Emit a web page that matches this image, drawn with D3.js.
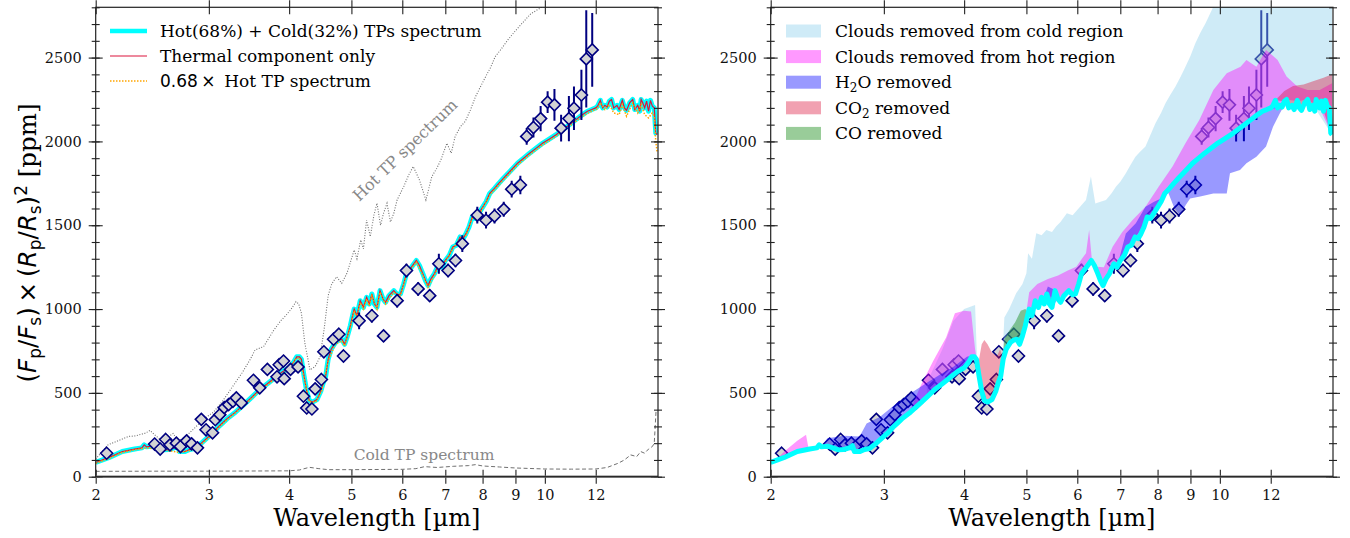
<!DOCTYPE html>
<html>
<head>
<meta charset="utf-8">
<script src="https://cdn.jsdelivr.net/npm/d3@7"></script>
<style>
body { margin: 0; background: #fff; }
svg text { font-family: "DejaVu Serif", serif; }
</style>
</head>
<body>
<script>
// ---- values ----
// best-fit model (hot 68% + cold 32%), [wavelength um, ppm]
var model = [[2.00,85],[2.05,100],[2.10,115],[2.20,150],[2.30,165],[2.36,172],[2.38,190],[2.40,178],[2.45,182],[2.50,172],
  [2.55,160],[2.60,162],[2.66,175],[2.68,185],[2.70,150],[2.75,150],[2.80,162],[2.85,168],[2.90,190],[2.95,215],
  [3.00,240],[3.05,265],[3.10,295],[3.15,320],[3.20,345],[3.30,385],[3.40,430],[3.50,475],[3.60,520],[3.70,555],
  [3.80,590],[3.90,625],[4.00,650],[4.06,680],[4.11,715],[4.15,715],[4.18,700],[4.22,600],[4.26,510],[4.30,455],
  [4.35,445],[4.42,460],[4.48,510],[4.52,560],[4.56,600],[4.60,700],[4.65,760],[4.72,800],[4.78,815],[4.83,820],
  [4.88,790],[4.93,840],[4.98,900],[5.02,960],[5.05,1000],[5.10,960],[5.16,1050],[5.22,1010],[5.28,1070],[5.33,1030],
  [5.38,1090],[5.43,1030],[5.48,1010],[5.54,1110],[5.60,1060],[5.65,1040],[5.72,1080],[5.82,1110],[5.90,1085],[5.96,1090],
  [6.03,1150],[6.09,1210],[6.20,1250],[6.31,1290],[6.38,1260],[6.46,1210],[6.52,1170],[6.58,1140],[6.65,1180],[6.73,1210],
  [6.84,1270],[6.92,1250],[7.00,1290],[7.10,1320],[7.19,1370],[7.28,1380],[7.38,1430],[7.46,1420],[7.54,1450],[7.62,1490],
  [7.71,1550],[7.80,1540],[7.95,1590],[8.10,1640],[8.21,1690],[8.35,1720],[8.48,1750],[8.62,1780],[8.77,1810],[8.92,1840],
  [9.07,1870],[9.27,1900],[9.47,1930],[9.70,1960],[9.93,1990],[10.17,2015],[10.41,2040],[10.66,2070],[10.92,2100],[11.18,2130],
  [11.45,2160],[11.65,2180],[11.83,2190],[12.00,2200],[12.08,2210],[12.20,2245],[12.30,2200],[12.40,2215],[12.50,2205],[12.60,2240],
  [12.70,2250],[12.80,2200],[12.95,2215],[13.05,2190],[13.20,2245],[13.30,2200],[13.40,2185],[13.55,2230],[13.70,2250],[13.80,2190],
  [13.95,2215],[14.05,2180],[14.12,2250],[14.20,2230],[14.30,2200],[14.40,2240],[14.50,2180],[14.60,2245],[14.70,2210],[14.80,2200],
  [14.88,2050],[14.95,2040]];

// 0.68 x hot TP spectrum (orange dotted)
var hot68 = [[2.0,80],[2.1,110],[2.2,145],[2.3,160],[2.4,172],[2.5,165],[2.6,155],[2.7,145],[2.8,155],[2.9,182],
  [3.0,232],[3.1,288],[3.2,338],[3.4,422],[3.6,512],[3.8,582],[4.0,642],[4.1,705],[4.15,708],[4.22,590],
  [4.3,445],[4.4,445],[4.5,515],[4.6,690],[4.72,790],[4.83,810],[4.88,780],[4.98,890],[5.05,990],[5.1,950],
  [5.16,1040],[5.22,1000],[5.28,1060],[5.33,1020],[5.38,1080],[5.48,1000],[5.54,1100],[5.65,1030],[5.82,1100],[5.96,1080],
  [6.09,1200],[6.31,1280],[6.46,1200],[6.58,1130],[6.73,1200],[6.84,1260],[7.0,1280],[7.19,1360],[7.38,1420],[7.54,1440],
  [7.71,1540],[7.95,1580],[8.21,1680],[8.48,1740],[8.77,1800],[9.07,1860],[9.47,1920],[9.93,1980],[10.41,2030],[10.92,2090],
  [11.45,2150],[11.83,2180],[12.08,2195],[12.2,2230],[12.4,2190],[12.6,2220],[12.8,2170],[13.05,2160],[13.2,2220],[13.4,2150],
  [13.7,2230],[13.95,2170],[14.12,2220],[14.3,2160],[14.5,2140],[14.7,2170],[14.8,2150],[14.88,2000],[14.95,1940]];

// hot TP spectrum (grey dotted)
var hotTP = [[2.0,105],[2.09,190],[2.25,240],[2.31,244],[2.39,260],[2.43,276],[2.47,250],[2.52,222],[2.58,232],[2.64,258],
  [2.69,210],[2.76,240],[2.85,290],[2.96,350],[3.05,385],[3.15,450],[3.27,540],[3.38,620],[3.48,700],[3.54,756],
  [3.65,776],[3.78,870],[3.88,930],[3.95,960],[4.03,1000],[4.1,1044],[4.14,1030],[4.18,975],[4.23,800],[4.31,637],
  [4.39,657],[4.47,716],[4.54,895],[4.6,1080],[4.66,1150],[4.74,1193],[4.83,1154],[4.92,1213],[5.05,1352],[5.1,1300],
  [5.17,1412],[5.22,1360],[5.28,1531],[5.35,1432],[5.42,1560],[5.48,1631],[5.55,1500],[5.61,1571],[5.68,1631],[5.75,1520],
  [5.82,1571],[5.89,1651],[6.03,1730],[6.14,1800],[6.24,1850],[6.38,1770],[6.53,1651],[6.67,1790],[6.79,1840],[6.89,1890],
  [7.04,1989],[7.15,1930],[7.25,2029],[7.39,2088],[7.52,2120],[7.66,2188],[7.8,2267],[7.95,2330],[8.09,2387],[8.23,2440],
  [8.37,2506],[8.55,2550],[8.76,2606],[9.0,2660],[9.22,2705],[9.5,2760],[9.92,2804],[10.3,2880],[11.0,2980]];

// cold TP spectrum (grey dashed)
var coldTP = [[2.0,32],[2.5,33],[3.0,33],[3.5,34],[4.0,35],[4.15,40],[4.3,56],[4.45,48],[4.6,42],[5.0,42],
  [5.5,43],[6.0,44],[6.3,48],[6.5,60],[6.8,55],[7.2,62],[7.6,66],[7.8,72],[8.0,64],[8.5,58],
  [9.0,52],[10,46],[11,45],[12,46],[12.5,55],[13,80],[13.3,100],[13.6,130],[13.9,120],[14.1,150],
  [14.3,140],[14.5,165],[14.7,180],[14.8,200],[14.9,400]];

// observed eclipse depths [wavelength, ppm, error]
var obs = [[2.08,140,25],[2.47,195,20],[2.52,165,20],[2.57,222,20],[2.61,190,20],[2.67,200,20],[2.71,180,20],[2.77,214,20],
  [2.82,196,20],[2.88,172,20],[2.92,342,20],[2.97,280,20],[3.04,262,20],[3.07,340,20],[3.12,370,20],[3.17,412,20],
  [3.22,430,20],[3.27,450,20],[3.31,470,20],[3.37,440,20],[3.52,575,25],[3.60,530,25],[3.70,640,25],[3.83,596,25],
  [3.86,668,25],[3.92,690,25],[3.93,585,25],[4.02,640,25],[4.13,655,25],[4.21,480,25],[4.26,410,25],[4.34,404,25],
  [4.39,524,25],[4.49,580,25],[4.53,745,30],[4.69,820,30],[4.78,850,30],[4.86,720,30],[5.14,930,50],[5.38,960,40],
  [5.61,840,35],[5.89,1050,40],[6.09,1230,40],[6.35,1120,40],[6.62,1080,35],[6.84,1270,60],[7.07,1230,40],[7.26,1290,40],
  [7.44,1390,50],[7.85,1560,50],[8.10,1530,50],[8.35,1555,45],[8.63,1595,45],[8.88,1715,50],[9.16,1740,55],[9.37,2030,50],
  [9.60,2083,60],[9.85,2136,75],[10.1,2234,65],[10.35,2218,94],[10.6,2079,80],[10.9,2136,135],[11.1,2198,130],[11.4,2277,150],
  [11.6,2492,290],[11.85,2546,220]];

// removed-opacity bands for the right panel: [wavelength, lower ppm, upper ppm]
var cloudsColdBand = [
  [[3.5,475,560],[3.7,555,760],[3.85,610,930],[4.0,650,1000],[4.1,712,1015],[4.16,715,1024],[4.19,690,690]],
  [[4.58,650,650],[4.62,720,950],[4.7,780,1000],[4.82,815,1094],[4.93,840,1150],[5.0,930,1213],[5.03,980,1333],[5.1,960,1300],
   [5.18,1040,1452],[5.28,1070,1440],[5.37,1080,1472],[5.48,1010,1460],[5.56,1100,1492],[5.65,1040,1520],[5.78,1100,1572],[5.9,1085,1560],
   [6.06,1180,1611],[6.19,1240,1651],[6.3,1290,1790],[6.4,1240,1630],[6.52,1170,1640],[6.65,1170,1651],[6.78,1240,1690],[6.89,1260,1730],
   [7.0,1290,1760],[7.14,1340,1810],[7.26,1380,1860],[7.39,1430,1909],[7.52,1450,1940],[7.66,1510,1969],[7.8,1540,2040],[7.94,1590,2109],
   [8.1,1640,2170],[8.23,1690,2228],[8.38,1725,2280],[8.53,1755,2327],[8.7,1790,2390],[8.84,1825,2446],[9.0,1855,2510],[9.16,1880,2586],
   [9.33,1905,2650],[9.5,1925,2705],[9.72,1960,2785],[10.0,1995,2900],[11,2105,3100],[12,2200,3300],[13,2210,3400],[14,2210,3500],[14.95,2040,3500]]
];
var cloudsHotBand = [
  [[2.0,85,85],[2.05,100,110],[2.1,115,150],[2.2,150,215],[2.27,162,250],[2.29,165,170]],
  [[3.3,385,400],[3.42,432,540],[3.58,510,690],[3.75,575,830],[3.87,615,975],[4.0,650,990],[4.1,712,985],[4.16,715,760],[4.19,690,690]],
  [[4.95,870,870],[5.05,1000,1100],[5.2,1030,1150],[5.4,1080,1180],[5.6,1060,1200],[5.8,1110,1230],[5.98,1090,1253],[6.1,1210,1300],
   [6.19,1250,1333],[6.26,1280,1472],[6.32,1285,1300],[6.42,1240,1253],[6.6,1150,1250],[6.81,1260,1372],[7.05,1300,1460],[7.32,1400,1532],
   [7.66,1510,1611],[8.03,1610,1730],[8.44,1735,1850],[8.84,1825,1989],[9.29,1900,2128],[9.77,1965,2307],[10.25,2025,2407],[10.77,2085,2446],
   [11.0,2115,2486],[11.4,2155,2446],[11.8,2185,2546],[12.3,2200,2486],[12.7,2250,2387],[13.2,2240,2327],[13.7,2250,2307],[14.3,2200,2307],[14.95,2040,2347]]
];
var h2oBand = [
  [[2.4,178,178],[2.45,182,230],[2.6,162,245],[2.75,150,240],[2.82,165,318],[2.96,220,358],[3.14,310,438],[3.33,400,507],
   [3.49,470,557],[3.66,540,607],[3.85,610,656],[4.04,660,716],[4.14,715,726],[4.18,700,700]],
  [[5.3,1050,1050],[5.4,1080,1134],[5.5,1020,1120],[5.6,1060,1060]],
  [[6.95,1280,1280],[7.14,1340,1450],[7.4,1430,1512],[7.66,1510,1611],[7.9,1580,1640],[8.1,1640,1660]],
  [[8.3,1700,1700],[8.5,1745,1600],[8.67,1785,1560],[8.85,1825,1620],[8.99,1855,1660],[9.32,1905,1672],[9.77,1965,1690],[10.25,2025,1690],
   [10.37,2040,1810],[10.75,2080,1830],[11.0,2115,1870],[11.4,2155,1909],[11.8,2185,1969],[12.1,2205,2088],[12.4,2215,2168],[12.7,2250,2240]]
];
var co2Band = [
  [[4.19,690,690],[4.22,600,700],[4.26,510,790],[4.3,455,815],[4.35,445,790],[4.42,460,740],[4.5,530,720],[4.55,580,760],[4.6,700,700]],
  [[12.2,2245,2245],[12.6,2240,2300],[13.0,2210,2330],[13.5,2220,2340],[14.0,2200,2360],[14.5,2180,2380],[14.95,2040,2400]]
];
var coBand = [
  [[4.58,650,650],[4.62,720,820],[4.7,780,870],[4.8,815,920],[4.9,820,990],[4.98,900,1000],[5.03,980,980]]
];

var xTicks = [2, 3, 4, 5, 6, 7, 8, 9, 10, 12];
var yTicks = [0, 500, 1000, 1500, 2000, 2500];
var yMinor = d3.range(0, 2801, 100);

var leftLegend = ['Hot(68%) + Cold(32%) TPs spectrum', 'Thermal component only', 'Hot TP spectrum'];
var rightLegend = [
  {label: [['Clouds removed from cold region']], color: '#87ceeb'},
  {label: [['Clouds removed from hot region']], color: '#ff00ff'},
  {label: [['H'], ['2', 'sub'], ['O removed']], color: '#0000ff'},
  {label: [['CO'], ['2', 'sub'], [' removed']], color: '#dc143c'},
  {label: [['CO removed']], color: '#008000'}
];

// ---- layout ----
var width = 1350, height = 538;
var plotW = 562.3, plotTop = 7.3, plotBottom = 476.7;
var lefts = [95.7, 770.7];

var svg = d3.select('body').append('svg')
    .attr('width', width)
    .attr('height', height);

function makeScales(left) {
    var x = d3.scaleLog().domain([2, 15]).range([left, left + plotW]);
    var y = d3.scaleLinear().domain([0, 2800]).range([plotBottom, plotTop]);
    return {x: x, y: y};
}

// axes with ticks crossing the spine, like the original
function drawAxes(g, s, left) {
    var bx = g.append('g').attr('transform', 'translate(0,' + plotBottom + ')')
        .call(d3.axisBottom(s.x).tickValues(xTicks).tickFormat(d3.format('d')).tickSize(7).tickSizeOuter(0).tickPadding(6));
    bx.selectAll('.tick line').attr('y1', -7);
    var tx = g.append('g').attr('transform', 'translate(0,' + plotTop + ')')
        .call(d3.axisTop(s.x).tickValues(xTicks).tickFormat('').tickSize(7).tickSizeOuter(0));
    tx.selectAll('.tick line').attr('y1', 7);

    var ly = g.append('g').attr('transform', 'translate(' + left + ',0)')
        .call(d3.axisLeft(s.y).tickValues(yTicks).tickFormat(d3.format('d')).tickSize(7).tickSizeOuter(0).tickPadding(7));
    ly.selectAll('.tick line').attr('x1', 7);
    var lm = g.append('g').attr('transform', 'translate(' + left + ',0)')
        .call(d3.axisLeft(s.y).tickValues(yMinor).tickFormat('').tickSize(4).tickSizeOuter(0));
    lm.selectAll('.tick line').attr('x1', 4);

    var ry = g.append('g').attr('transform', 'translate(' + (left + plotW) + ',0)')
        .call(d3.axisRight(s.y).tickValues(yTicks).tickFormat('').tickSize(7).tickSizeOuter(0));
    ry.selectAll('.tick line').attr('x1', -7);
    var rm = g.append('g').attr('transform', 'translate(' + (left + plotW) + ',0)')
        .call(d3.axisRight(s.y).tickValues(yMinor).tickFormat('').tickSize(4).tickSizeOuter(0));
    rm.selectAll('.tick line').attr('x1', -4);

    g.selectAll('.domain').remove();
    g.selectAll('.tick line').attr('stroke', '#222').attr('stroke-width', 1.1);
    g.selectAll('.tick text').attr('font-family', 'DejaVu Serif').attr('font-size', 14.5).attr('fill', '#111');

    // zero line and frame
    g.append('line')
        .attr('x1', left).attr('x2', left + plotW)
        .attr('y1', s.y(0)).attr('y2', s.y(0))
        .attr('stroke', '#777').attr('stroke-width', 2.2);
    g.append('rect')
        .attr('x', left).attr('y', plotTop)
        .attr('width', plotW).attr('height', plotBottom - plotTop)
        .attr('fill', 'none').attr('stroke', '#222').attr('stroke-width', 1.2);

    g.append('text')
        .attr('x', left + plotW / 2).attr('y', 526)
        .attr('text-anchor', 'middle')
        .attr('font-size', 24)
        .text('Wavelength [\u00b5m]');
}

function drawObs(g, s) {
    var pts = g.append('g');
    pts.selectAll('line').data(obs).enter().append('line')
        .attr('x1', function(d) { return s.x(d[0]); })
        .attr('x2', function(d) { return s.x(d[0]); })
        .attr('y1', function(d) { return s.y(d[1] - d[2]); })
        .attr('y2', function(d) { return s.y(d[1] + d[2]); })
        .attr('stroke', '#000080').attr('stroke-width', 2);
    pts.selectAll('path').data(obs).enter().append('path')
        .attr('d', 'M0,-6L6,0L0,6L-6,0Z')
        .attr('transform', function(d) { return 'translate(' + s.x(d[0]) + ',' + s.y(d[1]) + ')'; })
        .attr('fill', '#d3d3d3').attr('stroke', '#000080').attr('stroke-width', 1.6);
}

function lineOf(s) {
    return d3.line()
        .x(function(d) { return s.x(d[0]); })
        .y(function(d) { return s.y(d[1]); });
}

// ---- left panel ----
(function() {
    var left = lefts[0];
    var s = makeScales(left);
    var g = svg.append('g');
    g.append('clipPath').attr('id', 'clipL').append('rect')
        .attr('x', left).attr('y', plotTop).attr('width', plotW).attr('height', plotBottom - plotTop);
    var c = g.append('g').attr('clip-path', 'url(#clipL)');
    var line = lineOf(s);

    c.append('path').attr('d', line(hotTP)).attr('fill', 'none')
        .attr('stroke', '#707070').attr('stroke-width', 1.1).attr('stroke-dasharray', '1,1.6');
    c.append('path').attr('d', line(coldTP)).attr('fill', 'none')
        .attr('stroke', '#707070').attr('stroke-width', 1).attr('stroke-dasharray', '4,2.5');
    c.append('path').attr('d', line(model)).attr('fill', 'none')
        .attr('stroke', '#00ffff').attr('stroke-width', 5).attr('stroke-linejoin', 'round');
    c.append('path').attr('d', line(model)).attr('fill', 'none')
        .attr('stroke', '#dc143c').attr('stroke-width', 1.2);
    c.append('path').attr('d', line(hot68)).attr('fill', 'none')
        .attr('stroke', '#ffa500').attr('stroke-width', 1.5).attr('stroke-dasharray', '1.5,1.5');
    drawObs(c, s);

    g.append('text')
        .attr('transform', 'translate(405,150) rotate(-44)')
        .attr('text-anchor', 'middle').attr('dominant-baseline', 'central')
        .attr('font-size', 16).attr('fill', '#888')
        .text('Hot TP spectrum');
    g.append('text')
        .attr('x', 424).attr('y', 455)
        .attr('text-anchor', 'middle').attr('dominant-baseline', 'central')
        .attr('font-size', 15.5).attr('fill', '#888')
        .text('Cold TP spectrum');

    drawAxes(g, s, left);

    // legend
    var lg = g.append('g');
    lg.append('line').attr('x1', 110).attr('x2', 147).attr('y1', 31).attr('y2', 31)
        .attr('stroke', '#00ffff').attr('stroke-width', 4.5);
    lg.append('line').attr('x1', 110).attr('x2', 147).attr('y1', 56).attr('y2', 56)
        .attr('stroke', '#dc143c').attr('stroke-width', 1.2);
    lg.append('line').attr('x1', 110).attr('x2', 147).attr('y1', 81).attr('y2', 81)
        .attr('stroke', '#ffa500').attr('stroke-width', 1.5).attr('stroke-dasharray', '1.5,1.5');
    lg.append('text').attr('x', 160).attr('y', 37).attr('font-size', 17).text(leftLegend[0]);
    lg.append('text').attr('x', 160).attr('y', 62).attr('font-size', 17).text(leftLegend[1]);
    var t3 = lg.append('text').attr('x', 160).attr('y', 87).attr('font-size', 17);
    t3.append('tspan').attr('font-family', 'DejaVu Sans').text('0.68\u2009\u00d7\u2009');
    t3.append('tspan').text('\u00a0' + leftLegend[2]);

    // y label
    var yl = g.append('text')
        .attr('transform', 'translate(36,243) rotate(-90)')
        .attr('text-anchor', 'middle')
        .attr('font-size', 24.5);
    var parts = [
        ['(', 'n'], ['F', 'i'], ['p', 'b'], ['/', 'n'], ['F', 'i'], ['s', 'b'], [')\u2009\u00d7\u2009(', 'n'],
        ['R', 'i'], ['p', 'b'], ['/', 'n'], ['R', 'i'], ['s', 'b'], [')', 'n'], ['2', 'p'], [' [ppm]', 'r']
    ];
    var shift = 0;
    parts.forEach(function(p) {
        var ts = yl.append('tspan').text(p[0]);
        var want = p[1] === 'b' ? 5 : (p[1] === 'p' ? -9 : 0);
        if (want !== shift) { ts.attr('dy', want - shift); shift = want; }
        if (p[1] === 'r') ts.attr('font-family', 'DejaVu Serif');
        else ts.attr('font-family', 'DejaVu Sans');
        if (p[1] === 'i') ts.attr('font-style', 'italic');
        if (p[1] === 'b' || p[1] === 'p') ts.attr('font-size', 17);
    });
})();

// ---- right panel ----
(function() {
    var left = lefts[1];
    var s = makeScales(left);
    var g = svg.append('g');
    g.append('clipPath').attr('id', 'clipR').append('rect')
        .attr('x', left).attr('y', plotTop).attr('width', plotW).attr('height', plotBottom - plotTop);
    var c = g.append('g').attr('clip-path', 'url(#clipR)');

    drawObs(c, s);

    var area = d3.area()
        .x(function(d) { return s.x(d[0]); })
        .y0(function(d) { return s.y(d[1]); })
        .y1(function(d) { return s.y(d[2]); });
    var bands = [cloudsColdBand, cloudsHotBand, h2oBand, co2Band, coBand];
    bands.forEach(function(segs, i) {
        c.append('g').selectAll('path').data(segs).enter().append('path')
            .attr('d', area)
            .attr('fill', rightLegend[i].color)
            .attr('fill-opacity', 0.4)
            .attr('stroke', 'none');
    });

    c.append('path').attr('d', lineOf(s)(model)).attr('fill', 'none')
        .attr('stroke', '#00ffff').attr('stroke-width', 5).attr('stroke-linejoin', 'round');

    drawAxes(g, s, left);

    // legend
    var lg = g.append('g');
    rightLegend.forEach(function(item, i) {
        var yy = 31 + i * 25.6;
        lg.append('rect').attr('x', 786).attr('y', yy - 6.5).attr('width', 35).attr('height', 13)
            .attr('fill', item.color).attr('fill-opacity', 0.4);
        var t = lg.append('text').attr('x', 835).attr('y', yy + 6).attr('font-size', 17);
        var sh = 0;
        item.label.forEach(function(p) {
            var ts = t.append('tspan').text(p[0]);
            var want = p[1] === 'sub' ? 4 : 0;
            if (want !== sh) { ts.attr('dy', want - sh); sh = want; }
            if (p[1] === 'sub') ts.attr('font-size', 12);
        });
    });
})();
</script>
</body>
</html>
